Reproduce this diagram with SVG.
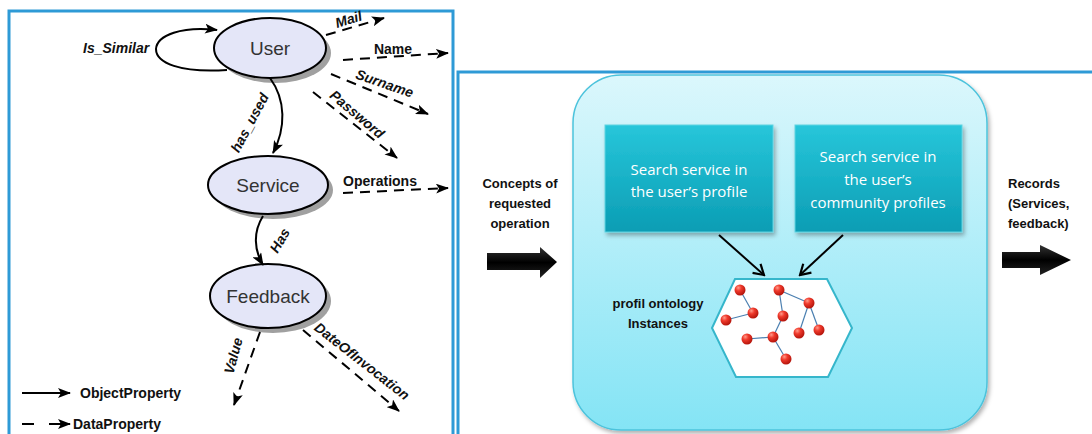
<svg xmlns="http://www.w3.org/2000/svg" width="1092" height="434" viewBox="0 0 1092 434">
<style>
.lbl{font-family:"Liberation Sans",Arial,sans-serif;font-weight:bold;font-size:14px;fill:#111}
.it{font-style:italic}
.ell{fill:#e4e6f8;stroke:#000;stroke-width:2}
.shd{fill:#a0a0a0}
.ename{font-family:"Liberation Sans",Arial,sans-serif;font-size:19px;fill:#333;text-anchor:middle}
.obj{fill:none;stroke:#000;stroke-width:2}
.dat{fill:none;stroke:#000;stroke-width:2;stroke-dasharray:10,7}
.panel{fill:none;stroke:#2e9ad6;stroke-width:3}
.rt{font-family:"Liberation Sans",Arial,sans-serif;font-weight:bold;font-size:13px;fill:#111}
.bt{font-family:"Open Sans","Liberation Sans",sans-serif;font-size:15px;fill:#fff;text-anchor:middle}
.ball{fill:url(#ballg)}
.edge{stroke:#4a7fb0;stroke-width:1.2}
.blk{fill:url(#blkg)}
</style>
<defs>
<marker id="ah" markerUnits="userSpaceOnUse" markerWidth="14" markerHeight="10" refX="12" refY="5" orient="auto">
<path d="M0,0 L13,5 L0,10 L3,5 z" fill="#000"/>
</marker>
<marker id="av" markerUnits="userSpaceOnUse" markerWidth="14" markerHeight="14" refX="12" refY="7" orient="auto">
<path d="M2,1 L12,7 L2,13" fill="none" stroke="#000" stroke-width="2.2"/>
</marker>
<linearGradient id="bigg" x1="0" y1="0" x2="0" y2="1">
<stop offset="0" stop-color="#dbf7fc"/>
<stop offset="1" stop-color="#84e4f5"/>
</linearGradient>
<linearGradient id="boxg" x1="0" y1="0" x2="0" y2="1">
<stop offset="0" stop-color="#27c6da"/>
<stop offset="1" stop-color="#0b9db4"/>
</linearGradient>
<radialGradient id="ballg" cx="0.35" cy="0.3" r="0.7">
<stop offset="0" stop-color="#ff9a8a"/>
<stop offset="0.4" stop-color="#f03a2c"/>
<stop offset="1" stop-color="#b5150c"/>
</radialGradient>
<linearGradient id="blkg" x1="0" y1="0" x2="0" y2="1">
<stop offset="0" stop-color="#333"/>
<stop offset="0.5" stop-color="#000"/>
<stop offset="1" stop-color="#222"/>
</linearGradient>
<filter id="sh" x="-10%" y="-10%" width="130%" height="130%">
<feDropShadow dx="2" dy="3" stdDeviation="2" flood-color="#000" flood-opacity="0.3"/>
</filter>
</defs>

<rect width="1092" height="434" fill="#fff"/>

<!-- panels -->
<g id="left-panel"><path class="panel" d="M9,440 V11 H453 V440"/></g>
<g id="right-panel"><path class="panel" d="M458,440 V72 H1095"/></g>

<!-- left: ontology nodes -->
<g id="user">
<ellipse class="shd" cx="275" cy="53" rx="56" ry="30"/>
<ellipse class="ell" cx="270" cy="48" rx="56" ry="30"/>
<text class="ename" x="270" y="55">User</text>
</g>
<g id="service">
<ellipse class="shd" cx="273" cy="190" rx="60" ry="29"/>
<ellipse class="ell" cx="268" cy="185" rx="60" ry="29"/>
<text class="ename" x="268" y="192">Service</text>
</g>
<g id="feedback">
<ellipse class="shd" cx="273" cy="301" rx="58" ry="32"/>
<ellipse class="ell" cx="268" cy="296" rx="58" ry="32"/>
<text class="ename" x="268" y="303">Feedback</text>
</g>

<g id="connectors-left">
<path class="obj" d="M227,70 C180,73 156,63 156,49 C157,35 182,26 217,30" marker-end="url(#ah)"/>
<path class="obj" d="M270,78 C286,100 286,128 273,153" marker-end="url(#ah)"/>
<path class="obj" d="M263,216 C253,232 254,250 263,265" marker-end="url(#ah)"/>
<path class="dat" d="M326,35 L384,18" marker-end="url(#ah)"/>
<path class="dat" d="M343,60 L448,53" marker-end="url(#ah)"/>
<path class="dat" d="M331,74 L428,114" marker-end="url(#ah)"/>
<path class="dat" d="M313,92 L397,158" marker-end="url(#ah)"/>
<path class="dat" d="M343,193 L448,188" marker-end="url(#ah)"/>
<path class="dat" d="M260,332 L234,405" marker-end="url(#ah)"/>
<path class="dat" d="M303,330 L399,411" marker-end="url(#ah)"/>
</g>

<g id="edge-labels-left">
<text class="lbl it" x="83" y="53">Is_Similar</text>
<text class="lbl it" x="0" y="0" text-anchor="middle" transform="translate(350,24) rotate(-17)">Mail</text>
<text class="lbl" x="393" y="54" text-anchor="middle">Name</text>
<text class="lbl it" x="0" y="0" text-anchor="middle" transform="translate(383,88) rotate(19)">Surname</text>
<text class="lbl it" x="0" y="0" text-anchor="middle" transform="translate(354,118) rotate(40)">Password</text>
<text class="lbl it" x="0" y="0" text-anchor="middle" transform="translate(254,125) rotate(-62)">has_used</text>
<text class="lbl" x="380" y="186" text-anchor="middle">Operations</text>
<text class="lbl it" x="0" y="0" text-anchor="middle" transform="translate(284,243) rotate(-60)">Has</text>
<text class="lbl it" x="0" y="0" text-anchor="middle" transform="translate(238,357) rotate(-75)">Value</text>
<text class="lbl it" x="0" y="0" text-anchor="middle" transform="translate(359,365) rotate(38)">DateOfInvocation</text>
</g>

<g id="legend">
<line class="obj" x1="22" y1="393" x2="70" y2="393" marker-end="url(#ah)"/>
<text class="lbl" x="80" y="398">ObjectProperty</text>
<line x1="22" y1="424" x2="34" y2="424" stroke="#000" stroke-width="2"/>
<line x1="49" y1="424" x2="70" y2="424" stroke="#000" stroke-width="2" marker-end="url(#ah)"/>
<text class="lbl" x="73" y="429">DataProperty</text>
</g>

<!-- right panel -->
<g id="container">
<rect x="573" y="75" width="414" height="355" rx="48" fill="url(#bigg)" stroke="#4cc3dc" stroke-width="1.5" filter="url(#sh)"/>
</g>
<g id="search-user-profile">
<rect x="605" y="125" width="168" height="107" fill="url(#boxg)" stroke="#5fd3e2" stroke-width="1" filter="url(#sh)"/>
<text class="bt" x="689" y="175">Search service in</text>
<text class="bt" x="689" y="197">the user’s profile</text>
</g>
<g id="search-community-profiles">
<rect x="795" y="125" width="167" height="107" fill="url(#boxg)" stroke="#5fd3e2" stroke-width="1" filter="url(#sh)"/>
<text class="bt" x="878" y="162">Search service in</text>
<text class="bt" x="878" y="185">the user’s</text>
<text class="bt" x="878" y="208">community profiles</text>
</g>
<g id="profil-ontology">
<polygon points="735,279 827,279 852,328 828,377 736,377 712,328" fill="#fff" stroke="#36b6cb" stroke-width="2"/>
<g>
<line class="edge" x1="740" y1="290" x2="753" y2="313"/>
<line class="edge" x1="753" y1="313" x2="726" y2="320"/>
<line class="edge" x1="779" y1="290" x2="783" y2="316"/>
<line class="edge" x1="779" y1="290" x2="809" y2="303"/>
<line class="edge" x1="783" y1="316" x2="773" y2="337"/>
<line class="edge" x1="747" y1="339" x2="773" y2="337"/>
<line class="edge" x1="773" y1="337" x2="786" y2="359"/>
<line class="edge" x1="809" y1="303" x2="799" y2="333"/>
<line class="edge" x1="809" y1="303" x2="819" y2="330"/>
</g>
<g>
<circle class="ball" cx="740" cy="290" r="5.5"/>
<circle class="ball" cx="753" cy="313" r="5.5"/>
<circle class="ball" cx="726" cy="320" r="5.5"/>
<circle class="ball" cx="779" cy="290" r="5.5"/>
<circle class="ball" cx="783" cy="316" r="5.5"/>
<circle class="ball" cx="809" cy="303" r="5.5"/>
<circle class="ball" cx="799" cy="333" r="5.5"/>
<circle class="ball" cx="819" cy="330" r="5.5"/>
<circle class="ball" cx="747" cy="339" r="5.5"/>
<circle class="ball" cx="773" cy="337" r="5.5"/>
<circle class="ball" cx="786" cy="359" r="5.5"/>
</g>
<text class="rt" x="658" y="308" text-anchor="middle">profil ontology</text>
<text class="rt" x="658" y="328" text-anchor="middle">Instances</text>
</g>

<g id="input">
<text class="rt" x="520" y="188" text-anchor="middle">Concepts of</text>
<text class="rt" x="520" y="208" text-anchor="middle">requested</text>
<text class="rt" x="520" y="228" text-anchor="middle">operation</text>
<polygon class="blk" points="487,253 540,253 540,247 557,262 540,278 540,270 487,270"/>
</g>
<g id="output">
<text class="rt" x="1008" y="188">Records</text>
<text class="rt" x="1008" y="208">(Services,</text>
<text class="rt" x="1008" y="228">feedback)</text>
<polygon class="blk" points="1002,252 1040,252 1040,245 1071,260 1040,275 1040,268 1002,268"/>
</g>

<g id="connectors-right">
<line x1="719" y1="235" x2="764" y2="275" stroke="#000" stroke-width="2" marker-end="url(#av)"/>
<line x1="843" y1="235" x2="800" y2="275" stroke="#000" stroke-width="2" marker-end="url(#av)"/>
</g>
</svg>
